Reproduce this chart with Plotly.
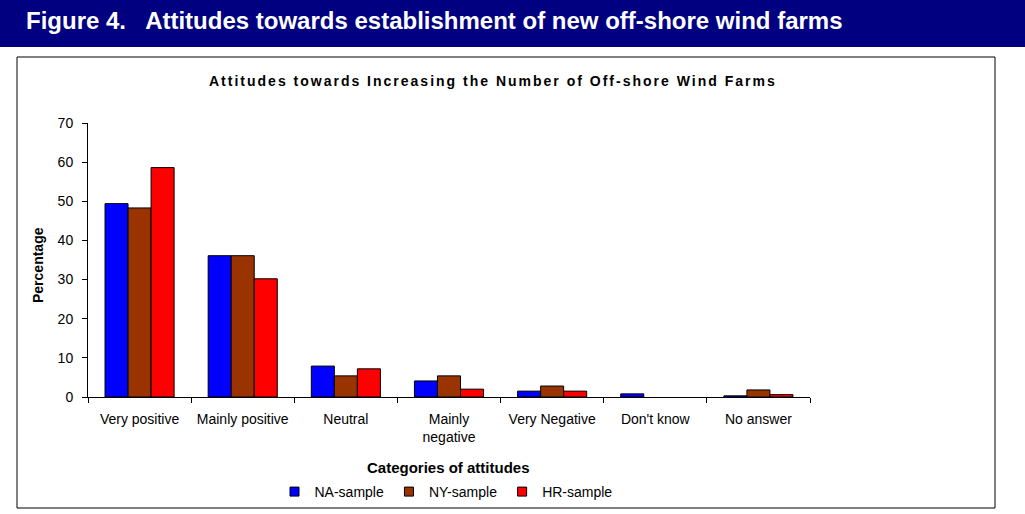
import plotly.graph_objects as go

categories = ["Very positive", "Mainly positive", "Neutral", "Mainly<br>negative",
              "Very Negative", "Don't know", "No answer"]
na_sample = [49.4, 36.1, 7.9, 4.1, 1.5, 0.8, 0.3]
ny_sample = [48.3, 36.1, 5.4, 5.4, 2.8, None, 1.8]
hr_sample = [58.6, 30.2, 7.2, 2.0, 1.5, None, 0.6]
series_names = ["NA-sample", "NY-sample", "HR-sample"]
series_colors = ["#0000FF", "#993300", "#FF0000"]
y_ticks = [0, 10, 20, 30, 40, 50, 60, 70]

W, H = 1025, 514
L, R, T, B = 88, 810, 123, 397


def px(x):
    return (x - L) / (R - L)


def py(y):
    return (B - y) / (B - T)


font_main = "Liberation Sans, Arial, sans-serif"

fig = go.Figure()
for name, vals, col in zip(series_names, [na_sample, ny_sample, hr_sample], series_colors):
    fig.add_trace(go.Bar(x=categories, y=vals, name=name, showlegend=False,
                         marker=dict(color=col, line=dict(color="black", width=1))))
# legend entries with small square swatches
for name, col in zip(series_names, series_colors):
    fig.add_trace(go.Scatter(x=[None], y=[None], name=name, mode="markers",
                             marker=dict(symbol="square", size=9, color=col,
                                         line=dict(color="black", width=1))))

fig.update_layout(
    width=W, height=H,
    margin=dict(l=L, r=W - R, t=T, b=H - B, autoexpand=False),
    paper_bgcolor="white", plot_bgcolor="white",
    barmode="group", bargap=0.33, bargroupgap=0,
    font=dict(family=font_main, size=14, color="black"),
    showlegend=True,
    legend=dict(orientation="h", x=px(446), y=py(492), xanchor="center", yanchor="middle",
                font=dict(size=14), itemwidth=30, tracegroupgap=0,
                bgcolor="rgba(0,0,0,0)"),
    xaxis=dict(showline=True, linecolor="black", linewidth=1, ticks="outside", ticklen=5,
               tickcolor="black", tickson="boundaries", showgrid=False, automargin=False,
               tickfont=dict(size=14), ticklabelstandoff=9),
    yaxis=dict(range=[0, 70], tickvals=y_ticks, showline=True, linecolor="black", linewidth=1,
               ticks="outside", ticklen=5, tickcolor="black", showgrid=False, zeroline=False,
               automargin=False, tickfont=dict(size=14), ticklabelstandoff=6),
    shapes=[
        dict(type="rect", xref="paper", yref="paper", x0=px(0), x1=px(W), y0=py(0), y1=py(47),
             fillcolor="#000080", line=dict(width=0), layer="below"),
        dict(type="rect", xref="paper", yref="paper", x0=px(17), x1=px(995), y0=py(57), y1=py(508),
             fillcolor="rgba(0,0,0,0)", line=dict(color="black", width=1), layer="below"),
    ],
    annotations=[
        dict(text="<b>Figure 4.   Attitudes towards establishment of new off-shore wind farms</b>",
             xref="paper", yref="paper", x=px(24), y=py(21), xanchor="left", yanchor="middle",
             showarrow=False, font=dict(family=font_main, size=24, color="white")),
        dict(text="<b><span style='letter-spacing:2px'>Attitudes towards Increasing the Number of Off-shore Wind Farms</span></b>",
             xref="paper", yref="paper", x=px(493), y=py(81), xanchor="center", yanchor="middle",
             showarrow=False, font=dict(family=font_main, size=14, color="black")),
        dict(text="<b>Percentage</b>", xref="paper", yref="paper", x=px(38), y=py(265),
             xanchor="center", yanchor="middle", textangle=-90, showarrow=False,
             font=dict(family=font_main, size=14, color="black")),
        dict(text="<b>Categories of attitudes</b>", xref="paper", yref="paper", x=px(448), y=py(467),
             xanchor="center", yanchor="middle", showarrow=False,
             font=dict(family=font_main, size=15, color="black")),
    ],
)

fig.write_html("out.html", config={"displayModeBar": False},
               post_script="document.body.style.margin='0';")
